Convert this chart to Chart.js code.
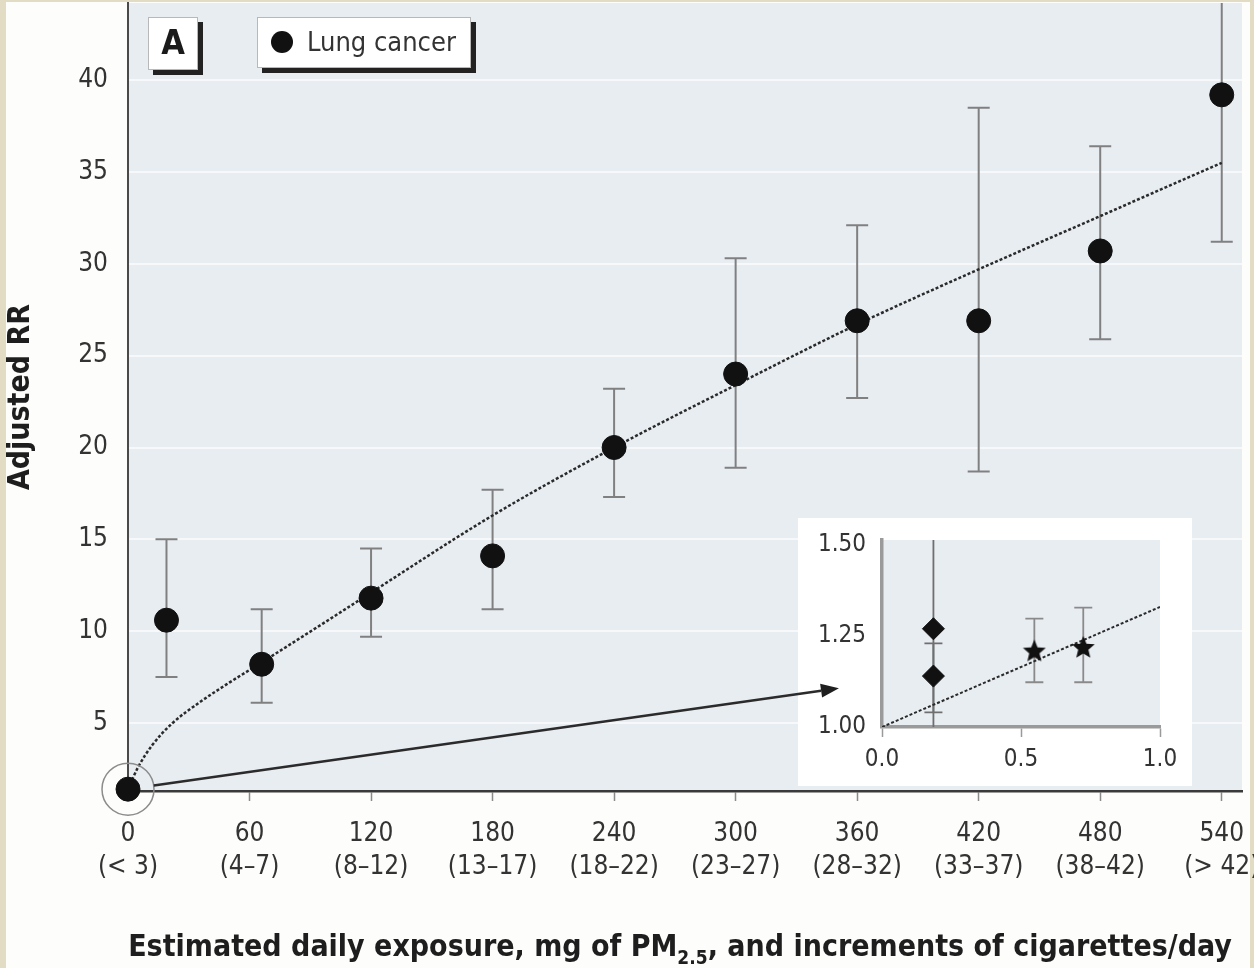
<!DOCTYPE html>
<html>
<head>
<meta charset="utf-8">
<title>Adjusted RR of lung cancer by daily PM2.5 exposure</title>
<script src="https://cdn.jsdelivr.net/npm/chart.js@4.4.1/dist/chart.umd.min.js"></script>
<style>
  html, body { margin: 0; padding: 0; background: #e2dcc5; }
  #wrap { position: relative; width: 1254px; height: 968px; overflow: hidden; }
  #paper { position: absolute; left: 6px; top: 2px; width: 1244px; height: 966px; background: #fdfdfb; }
  #main { position: absolute; left: 0; top: 0; }
  #inset { position: absolute; left: 798px; top: 518px; }
</style>
</head>
<body>
<div id="wrap">
  <div id="paper"></div>
  <canvas id="main" width="1254" height="968"></canvas>
  <canvas id="inset" width="394" height="268"></canvas>
</div>
<script>
// ---- main panel: lung cancer RR by estimated daily PM2.5 dose ----
const exposureMg   = [0, 19, 66, 120, 180, 240, 300, 360, 420, 480, 540];
const adjustedRR   = [1.4, 10.6, 8.2, 11.8, 14.1, 20.0, 24.0, 26.9, 26.9, 30.7, 39.2];
const rrLower      = [null, 7.5, 6.1, 9.7, 11.2, 17.3, 18.9, 22.7, 18.7, 25.9, 31.2];
const rrUpper      = [null, 15.0, 11.2, 14.5, 17.7, 23.2, 30.3, 32.1, 38.5, 36.4, 46.0];

// fitted exposure-response curve
const fitExposure  = [0, 5, 12, 22, 35, 50, 66, 96, 120, 180, 240, 300, 360, 420, 480, 540];
const fitRR        = [1.4, 2.6, 3.8, 5.0, 6.1, 7.2, 8.3, 10.4, 12.1, 16.3, 20.0, 23.4, 26.7, 29.7, 32.6, 35.5];

const xTickValues    = [0, 60, 120, 180, 240, 300, 360, 420, 480, 540];
const cigaretteBands = ['(< 3)', '(4–7)', '(8–12)', '(13–17)', '(18–22)', '(23–27)', '(28–32)', '(33–37)', '(38–42)', '(> 42)'];
const yTickValues    = [5, 10, 15, 20, 25, 30, 35, 40];

// ---- inset: low-dose range ----
const insetDiamondX  = [0.185, 0.185];
const insetDiamondRR = [1.27, 1.14];
const insetDiamondLo = [0.98, 1.04];
const insetDiamondHi = [1.56, 1.23];
const insetStarX     = [0.548, 0.724];
const insetStarRR    = [1.21, 1.22];
const insetStarLo    = [1.123, 1.123];
const insetStarHi    = [1.298, 1.328];
const insetFitX      = [0, 1.0];
const insetFitRR     = [1.0, 1.33];
const insetXTicks    = [0, 0.5, 1.0];
const insetYTicks    = [1.0, 1.25, 1.5];

const FONT = "'Liberation Sans Narrow', 'DejaVu Sans Condensed', 'Arial Narrow', sans-serif";
const PLOT_BG = '#e8edf2';
const INK = '#1a1a1a';

function pairs(xs, ys) { return xs.map((x, i) => ({ x: x, y: ys[i] })); }

// shared error-bar drawing through a chart's scales
function drawErrorBars(chart, xs, lo, hi, capHalf, color, width) {
  const { ctx, chartArea: a, scales: { x, y } } = chart;
  ctx.save();
  ctx.beginPath();
  ctx.rect(a.left, a.top, a.right - a.left, a.bottom - a.top);
  ctx.clip();
  ctx.strokeStyle = color;
  ctx.lineWidth = width;
  xs.forEach((xv, i) => {
    if (lo[i] == null || hi[i] == null) return;
    const px = x.getPixelForValue(xv);
    const p1 = y.getPixelForValue(lo[i]);
    const p2 = y.getPixelForValue(hi[i]);
    ctx.beginPath();
    ctx.moveTo(px, p1); ctx.lineTo(px, p2);
    ctx.moveTo(px - capHalf, p1); ctx.lineTo(px + capHalf, p1);
    ctx.moveTo(px - capHalf, p2); ctx.lineTo(px + capHalf, p2);
    ctx.stroke();
  });
  ctx.restore();
}

const plotBackground = {
  id: 'plotBackground',
  beforeDraw(chart) {
    const { ctx, chartArea: a } = chart;
    ctx.save();
    ctx.fillStyle = PLOT_BG;
    ctx.fillRect(a.left, a.top, a.right - a.left, a.bottom - a.top);
    ctx.restore();
  }
};

function boxWithShadow(ctx, x, y, w, h, s) {
  ctx.fillStyle = '#222';
  ctx.fillRect(x + s, y + s, w, h);
  ctx.fillStyle = '#ffffff';
  ctx.fillRect(x, y, w, h);
  ctx.strokeStyle = '#b8b8b8';
  ctx.lineWidth = 1;
  ctx.strokeRect(x + 0.5, y + 0.5, w - 1, h - 1);
}

const mainDecor = {
  id: 'mainDecor',
  beforeDatasetsDraw(chart) {
    drawErrorBars(chart, exposureMg, rrLower, rrUpper, 11, '#808080', 2);
  },
  afterDatasetsDraw(chart) {
    const { ctx, scales: { x, y } } = chart;
    ctx.save();

    // ring around the reference category
    const cx = x.getPixelForValue(exposureMg[0]);
    const cy = y.getPixelForValue(adjustedRR[0]);
    const r = 26;
    ctx.strokeStyle = '#8c8c8c';
    ctx.lineWidth = 1.5;
    ctx.beginPath();
    ctx.arc(cx, cy, r, 0, Math.PI * 2);
    ctx.stroke();

    // white panel holding the low-dose inset
    const ins = document.getElementById('inset');
    ctx.fillStyle = '#ffffff';
    ctx.fillRect(ins.offsetLeft, ins.offsetTop, ins.width, ins.height);

    // arrow pointing from the ring to the inset
    const tx = x.getPixelForValue(351);
    const ty = y.getPixelForValue(6.9);
    const ang = Math.atan2(ty - cy, tx - cx);
    const sx = cx + r * Math.cos(ang), sy = cy + r * Math.sin(ang);
    const head = 18, half = 7;
    const bx = tx - head * Math.cos(ang), by = ty - head * Math.sin(ang);
    ctx.strokeStyle = '#2b2b2b';
    ctx.lineWidth = 2.5;
    ctx.beginPath();
    ctx.moveTo(sx, sy); ctx.lineTo(bx, by);
    ctx.stroke();
    ctx.fillStyle = '#1f1f1f';
    ctx.beginPath();
    ctx.moveTo(tx, ty);
    ctx.lineTo(bx - half * Math.sin(ang), by + half * Math.cos(ang));
    ctx.lineTo(bx + half * Math.sin(ang), by - half * Math.cos(ang));
    ctx.closePath();
    ctx.fill();

    // panel letter
    boxWithShadow(ctx, 148, 17, 50, 53, 5);
    ctx.fillStyle = INK;
    ctx.font = "bold 34px " + FONT;
    ctx.textAlign = 'center';
    ctx.textBaseline = 'middle';
    ctx.fillText('A', 173, 45);

    // legend
    const ds = chart.data.datasets[1];
    boxWithShadow(ctx, 257, 17, 214, 51, 5);
    ctx.fillStyle = ds.backgroundColor;
    ctx.beginPath();
    ctx.arc(282, 42, 11, 0, Math.PI * 2);
    ctx.fill();
    ctx.fillStyle = '#333';
    ctx.font = "27px " + FONT;
    ctx.textAlign = 'left';
    ctx.fillText(ds.label, 307, 44);

    // x-axis title with PM2.5 subscript
    const parts = [
      { t: 'Estimated daily exposure, mg of PM', sub: false },
      { t: '2.5', sub: true },
      { t: ', and increments of cigarettes/day', sub: false }
    ];
    const big = "bold 30px " + FONT, small = "bold 19px " + FONT;
    let total = 0;
    parts.forEach(p => { ctx.font = p.sub ? small : big; p.w = ctx.measureText(p.t).width; total += p.w; });
    let px = 680 - total / 2;
    const base = 956;
    ctx.fillStyle = '#1e1e1e';
    ctx.textBaseline = 'alphabetic';
    parts.forEach(p => {
      ctx.font = p.sub ? small : big;
      ctx.fillText(p.t, px, p.sub ? base + 8 : base);
      px += p.w;
    });
    ctx.restore();
  }
};

new Chart(document.getElementById('main'), {
  type: 'scatter',
  data: {
    datasets: [
      {
        type: 'line',
        label: 'Fitted curve',
        data: pairs(fitExposure, fitRR),
        borderColor: '#2a2a2a',
        borderWidth: 2.5,
        borderDash: [3, 2],
        pointRadius: 0,
        cubicInterpolationMode: 'monotone',
        fill: false,
        order: 1
      },
      {
        label: 'Lung cancer',
        data: pairs(exposureMg, adjustedRR),
        backgroundColor: '#111111',
        borderColor: '#111111',
        pointRadius: 12,
        pointStyle: 'circle',
        clip: false,
        order: 0
      }
    ]
  },
  options: {
    responsive: false,
    devicePixelRatio: 1,
    animation: false,
    events: [],
    layout: { autoPadding: false, padding: { left: 0, top: 3, right: 12, bottom: 0 } },
    plugins: { legend: { display: false }, tooltip: { enabled: false } },
    scales: {
      x: {
        type: 'linear',
        min: 0,
        max: 550,
        afterBuildTicks: s => { s.ticks = xTickValues.map(v => ({ value: v })); },
        afterFit: s => { s.height = 177; s.paddingLeft = 0; s.paddingRight = 0; },
        ticks: {
          autoSkip: false,
          maxRotation: 0,
          padding: 16,
          color: '#333',
          font: { family: FONT, size: 26, lineHeight: 1.3 },
          callback: v => {
            const i = xTickValues.indexOf(v);
            return [String(v), cigaretteBands[i]];
          }
        },
        grid: { drawOnChartArea: false, drawTicks: true, tickLength: 10, tickWidth: 1.5, tickColor: '#8a8a8a' },
        border: { color: '#3a3a3a', width: 2.5 }
      },
      y: {
        type: 'linear',
        min: 1.3,
        max: 44.2,
        afterBuildTicks: s => { s.ticks = yTickValues.map(v => ({ value: v })); },
        afterFit: s => { s.width = 128; s.paddingTop = 0; s.paddingBottom = 0; },
        ticks: { padding: 20, color: '#333', font: { family: FONT, size: 26 } },
        grid: { color: 'rgba(255,255,255,0.6)', lineWidth: 2, drawTicks: false },
        border: { color: '#4a4a4a', width: 2 },
        title: {
          display: true,
          text: 'Adjusted RR',
          color: '#1e1e1e',
          font: { family: FONT, size: 30, weight: 'bold' },
          padding: { top: 3, bottom: 0 }
        }
      }
    }
  },
  plugins: [plotBackground, mainDecor]
});

// ---- inset ----
function starImage(size) {
  const c = document.createElement('canvas');
  c.width = size; c.height = size;
  const g = c.getContext('2d');
  const cx = size / 2, cy = size / 2 + 1, ro = size / 2, ri = ro * 0.45;
  g.fillStyle = '#111';
  g.beginPath();
  for (let k = 0; k < 10; k++) {
    const rr = k % 2 === 0 ? ro : ri;
    const a = -Math.PI / 2 + k * Math.PI / 5;
    const px = cx + rr * Math.cos(a), py = cy + rr * Math.sin(a);
    if (k === 0) g.moveTo(px, py); else g.lineTo(px, py);
  }
  g.closePath();
  g.fill();
  return c;
}

const insetDecor = {
  id: 'insetDecor',
  beforeDatasetsDraw(chart) {
    drawErrorBars(chart, insetDiamondX, insetDiamondLo, insetDiamondHi, 9, '#6f6f6f', 1.8);
    drawErrorBars(chart, insetStarX, insetStarLo, insetStarHi, 9, '#8a8a8a', 1.8);
  }
};

new Chart(document.getElementById('inset'), {
  type: 'scatter',
  data: {
    datasets: [
      {
        type: 'line',
        label: 'Fitted curve (low dose)',
        data: pairs(insetFitX, insetFitRR),
        borderColor: '#2a2a2a',
        borderWidth: 2,
        borderDash: [3, 2],
        pointRadius: 0,
        fill: false,
        order: 2
      },
      {
        label: 'Diamond estimates',
        data: pairs(insetDiamondX, insetDiamondRR),
        pointStyle: 'rectRot',
        pointRadius: 11,
        backgroundColor: '#111',
        borderColor: '#111',
        order: 0
      },
      {
        label: 'Star estimates',
        data: pairs(insetStarX, insetStarRR),
        pointStyle: starImage(24),
        pointRadius: 12,
        backgroundColor: '#111',
        borderColor: '#111',
        order: 1
      }
    ]
  },
  options: {
    responsive: false,
    devicePixelRatio: 1,
    animation: false,
    events: [],
    layout: { autoPadding: false, padding: { left: 0, top: 22, right: 32, bottom: 0 } },
    plugins: { legend: { display: false }, tooltip: { enabled: false } },
    scales: {
      x: {
        type: 'linear',
        min: 0,
        max: 1.0,
        afterBuildTicks: s => { s.ticks = insetXTicks.map(v => ({ value: v })); },
        afterFit: s => { s.height = 59; s.paddingLeft = 0; s.paddingRight = 0; },
        ticks: {
          padding: 8, color: '#333', maxRotation: 0,
          font: { family: FONT, size: 24 },
          callback: v => v.toFixed(1)
        },
        grid: { drawOnChartArea: false, drawTicks: true, tickLength: 10, tickWidth: 1.5, tickColor: '#9a9a9a' },
        border: { color: '#9a9a9a', width: 3.5 }
      },
      y: {
        type: 'linear',
        min: 1.0,
        max: 1.514,
        afterBuildTicks: s => { s.ticks = insetYTicks.map(v => ({ value: v })); },
        afterFit: s => { s.width = 84; s.paddingTop = 0; s.paddingBottom = 0; },
        ticks: {
          padding: 16, color: '#333',
          font: { family: FONT, size: 24 },
          callback: v => v.toFixed(2)
        },
        grid: { drawOnChartArea: false, drawTicks: false },
        border: { color: '#9a9a9a', width: 3.5 }
      }
    }
  },
  plugins: [plotBackground, insetDecor]
});
</script>
</body>
</html>
